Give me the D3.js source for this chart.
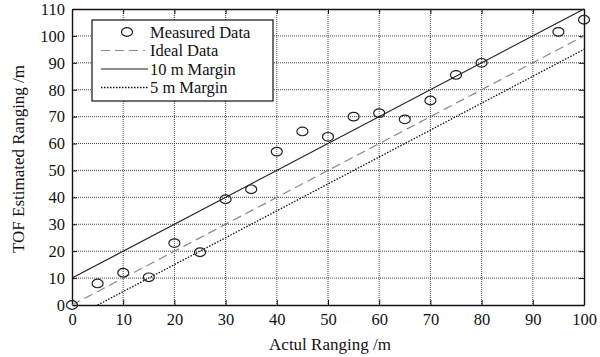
<!DOCTYPE html>
<html>
<head>
<meta charset="utf-8">
<script src="https://cdn.jsdelivr.net/npm/d3@7"></script>
<style>
  body { margin: 0; background: #fff; }
  text { font-family: "Liberation Serif", "DejaVu Serif", serif; fill: #111; }
</style>
</head>
<body>
<div id="chart"></div>
<script>
var svgWidth = 600;
var svgHeight = 357;

var margin = { top: 9, right: 16, bottom: 52, left: 72 };

var width = svgWidth - margin.left - margin.right;
var height = svgHeight - margin.top - margin.bottom;

// measured points
var actualRange = [0, 5, 10, 15, 20, 25, 30, 35, 40, 45, 50, 55, 60, 65, 70, 75, 80, 95, 100];
var measuredRange = [0, 8, 12, 10.3, 23, 19.6, 39.3, 43, 57, 64.5, 62.5, 70, 71.3, 69, 76, 85.5, 90, 101.5, 106];

var xTicks = [0, 10, 20, 30, 40, 50, 60, 70, 80, 90, 100];
var yTicks = [0, 10, 20, 30, 40, 50, 60, 70, 80, 90, 100, 110];

var legendLabels = ["Measured Data", "Ideal Data", "10 m Margin", "5 m Margin"];

var svg = d3.select("#chart")
    .append("svg")
    .attr("width", svgWidth)
    .attr("height", svgHeight);

var chartGroup = svg.append("g")
    .attr("transform", `translate(${margin.left}, ${margin.top})`);

var xScale = d3.scaleLinear().domain([0, 100]).range([0, width]);
var yScale = d3.scaleLinear().domain([0, 110]).range([height, 0]);

// grid
chartGroup.append("g")
    .selectAll("line")
    .data(xTicks.slice(1, -1))
    .enter()
    .append("line")
    .attr("x1", d => xScale(d))
    .attr("x2", d => xScale(d))
    .attr("y1", 0)
    .attr("y2", height)
    .attr("stroke", "#444")
    .attr("stroke-width", 1)
    .attr("stroke-dasharray", "1,1");

chartGroup.append("g")
    .selectAll("line")
    .data(yTicks.slice(1, -1))
    .enter()
    .append("line")
    .attr("x1", 0)
    .attr("x2", width)
    .attr("y1", d => yScale(d))
    .attr("y2", d => yScale(d))
    .attr("stroke", "#444")
    .attr("stroke-width", 1)
    .attr("stroke-dasharray", "1,1");

// axes with inward ticks
var bottomAxis = d3.axisBottom(xScale).tickValues(xTicks).tickSizeInner(-5).tickSizeOuter(0).tickPadding(8);
var leftAxis = d3.axisLeft(yScale).tickValues(yTicks).tickSizeInner(-5).tickSizeOuter(0).tickPadding(7);
var topAxis = d3.axisTop(xScale).tickValues(xTicks).tickSizeInner(-5).tickSizeOuter(0).tickFormat("");
var rightAxis = d3.axisRight(yScale).tickValues(yTicks).tickSizeInner(-5).tickSizeOuter(0).tickFormat("");

var xAxis = chartGroup.append("g")
    .attr("transform", `translate(0, ${height})`)
    .call(bottomAxis);
var yAxis = chartGroup.append("g").call(leftAxis);
chartGroup.append("g").call(topAxis);
chartGroup.append("g").attr("transform", `translate(${width}, 0)`).call(rightAxis);

chartGroup.selectAll(".domain").attr("stroke", "#111").attr("stroke-width", 1.4);
chartGroup.selectAll(".tick line").attr("stroke", "#111");
chartGroup.selectAll(".tick text").attr("font-size", "16.5px").attr("fill", "#111")
    .attr("font-family", "Liberation Serif, serif");
yAxis.selectAll(".tick text").attr("dy", "0.32em");

// reference lines
var lineGen = d3.line().x(d => xScale(d[0])).y(d => yScale(d[1]));

chartGroup.append("path")
    .datum([[0, 0], [100, 100]])
    .attr("d", lineGen)
    .attr("fill", "none")
    .attr("stroke", "#888")
    .attr("stroke-width", 1.2)
    .attr("stroke-dasharray", "9,5");

chartGroup.append("path")
    .datum([[0, 10], [100, 110]])
    .attr("d", lineGen)
    .attr("fill", "none")
    .attr("stroke", "#222")
    .attr("stroke-width", 1.2);

chartGroup.append("path")
    .datum([[5, 0], [100, 95]])
    .attr("d", lineGen)
    .attr("fill", "none")
    .attr("stroke", "#111")
    .attr("stroke-width", 1.3)
    .attr("stroke-dasharray", "1.5,1.5");

// measured points
chartGroup.selectAll("ellipse.pt")
    .data(actualRange)
    .enter()
    .append("ellipse")
    .attr("class", "pt")
    .attr("cx", d => xScale(d))
    .attr("cy", (d, i) => yScale(measuredRange[i]))
    .attr("rx", 5.5)
    .attr("ry", 4.3)
    .attr("fill", "none")
    .attr("stroke", "#222")
    .attr("stroke-width", 1.2);

// legend
var legend = chartGroup.append("g")
    .attr("transform", "translate(20, 11)");

legend.append("rect")
    .attr("width", 181)
    .attr("height", 81)
    .attr("fill", "#fff")
    .attr("stroke", "#111")
    .attr("stroke-width", 1.2);

var rowY = [12, 30.5, 49, 67.5];

legend.append("ellipse")
    .attr("cx", 35).attr("cy", rowY[0])
    .attr("rx", 5.5).attr("ry", 4.3)
    .attr("fill", "none").attr("stroke", "#222").attr("stroke-width", 1.2);

legend.append("line")
    .attr("x1", 9).attr("x2", 53).attr("y1", rowY[1]).attr("y2", rowY[1])
    .attr("stroke", "#888").attr("stroke-width", 1.2).attr("stroke-dasharray", "9,5");

legend.append("line")
    .attr("x1", 9).attr("x2", 56).attr("y1", rowY[2]).attr("y2", rowY[2])
    .attr("stroke", "#222").attr("stroke-width", 1.2);

legend.append("line")
    .attr("x1", 9).attr("x2", 56).attr("y1", rowY[3]).attr("y2", rowY[3])
    .attr("stroke", "#111").attr("stroke-width", 1.3).attr("stroke-dasharray", "1.5,1.5");

legend.selectAll("text")
    .data(legendLabels)
    .enter()
    .append("text")
    .attr("x", 58)
    .attr("y", (d, i) => rowY[i])
    .attr("dy", "0.35em")
    .attr("font-size", "16.5px")
    .text(d => d);

// axis labels
svg.append("text")
    .attr("x", margin.left + width / 2 + 2)
    .attr("y", 350)
    .attr("text-anchor", "middle")
    .attr("font-size", "17px")
    .text("Actul Ranging /m");

svg.append("text")
    .attr("transform", `translate(24, ${margin.top + height / 2 + 2}) rotate(-90)`)
    .attr("text-anchor", "middle")
    .attr("font-size", "17px")
    .text("TOF Estimated Ranging /m");
</script>
</body>
</html>
